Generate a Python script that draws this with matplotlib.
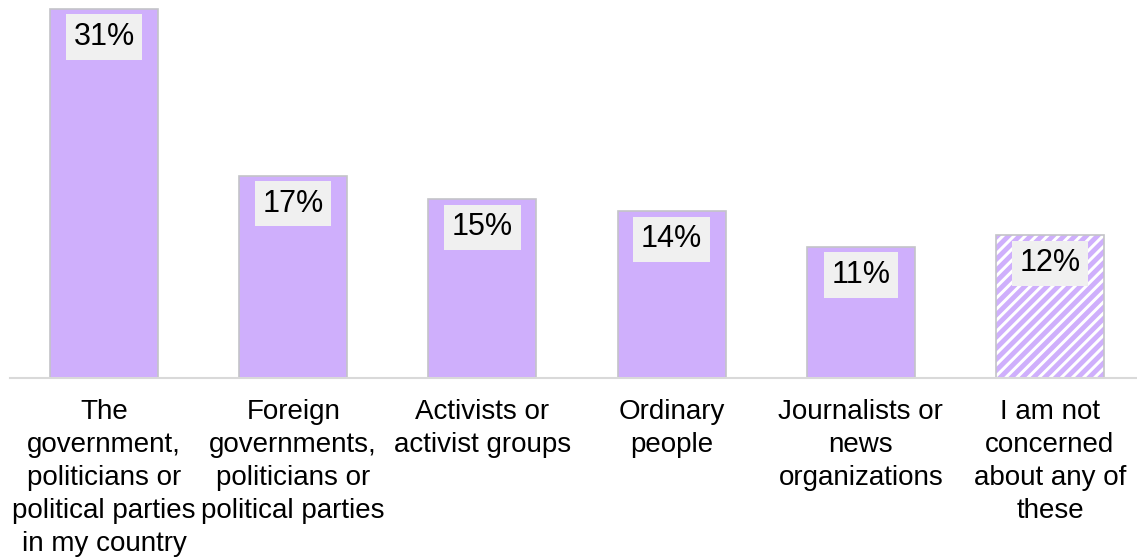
import matplotlib.pyplot as plt

plt.rcParams['font.family'] = ['Liberation Sans', 'DejaVu Sans']

categories = [
    "The\ngovernment,\npoliticians or\npolitical parties\nin my country",
    "Foreign\ngovernments,\npoliticians or\npolitical parties",
    "Activists or\nactivist groups",
    "Ordinary\npeople",
    "Journalists or\nnews\norganizations",
    "I am not\nconcerned\nabout any of\nthese",
]
values = [31, 17, 15, 14, 11, 12]
hatched = [False, False, False, False, False, True]

fig = plt.figure(figsize=(11.37, 5.59), dpi=100)
ax = fig.add_axes([10 / 1137, 181 / 559, 1127 / 1137, 378 / 559])

purple = '#cfaffc'
edge = '#c4c4c8'
plt.rcParams['hatch.linewidth'] = 3.5
for i, (v, h) in enumerate(zip(values, hatched)):
    if h:
        # striped fill first, grey outline on top
        ax.bar(i, v, width=0.57, color='white', edgecolor=purple, hatch='///', linewidth=0)
        ax.bar(i, v, width=0.57, color='none', edgecolor=edge, linewidth=1.2)
    else:
        ax.bar(i, v, width=0.57, color=purple, edgecolor=edge, linewidth=1.2)
    ax.text(i, v - 2.35, f"{v}%", ha='center', va='center', fontsize=22,
            bbox=dict(boxstyle='square,pad=0.25', facecolor='#f0f0f0', edgecolor='none'))

ax.set_xlim(-0.497, 5.46)
ax.set_ylim(0, 378 / 11.9)
ax.set_xticks(list(range(len(values))))
ax.set_xticklabels(categories, fontsize=20, linespacing=1.35)
ax.tick_params(axis='x', length=0, pad=15)
ax.set_yticks([])
for s in ['top', 'right', 'left']:
    ax.spines[s].set_visible(False)
ax.spines['bottom'].set_color('#d9d9d9')
ax.spines['bottom'].set_linewidth(1.5)

fig.savefig('out.png', dpi=100)
